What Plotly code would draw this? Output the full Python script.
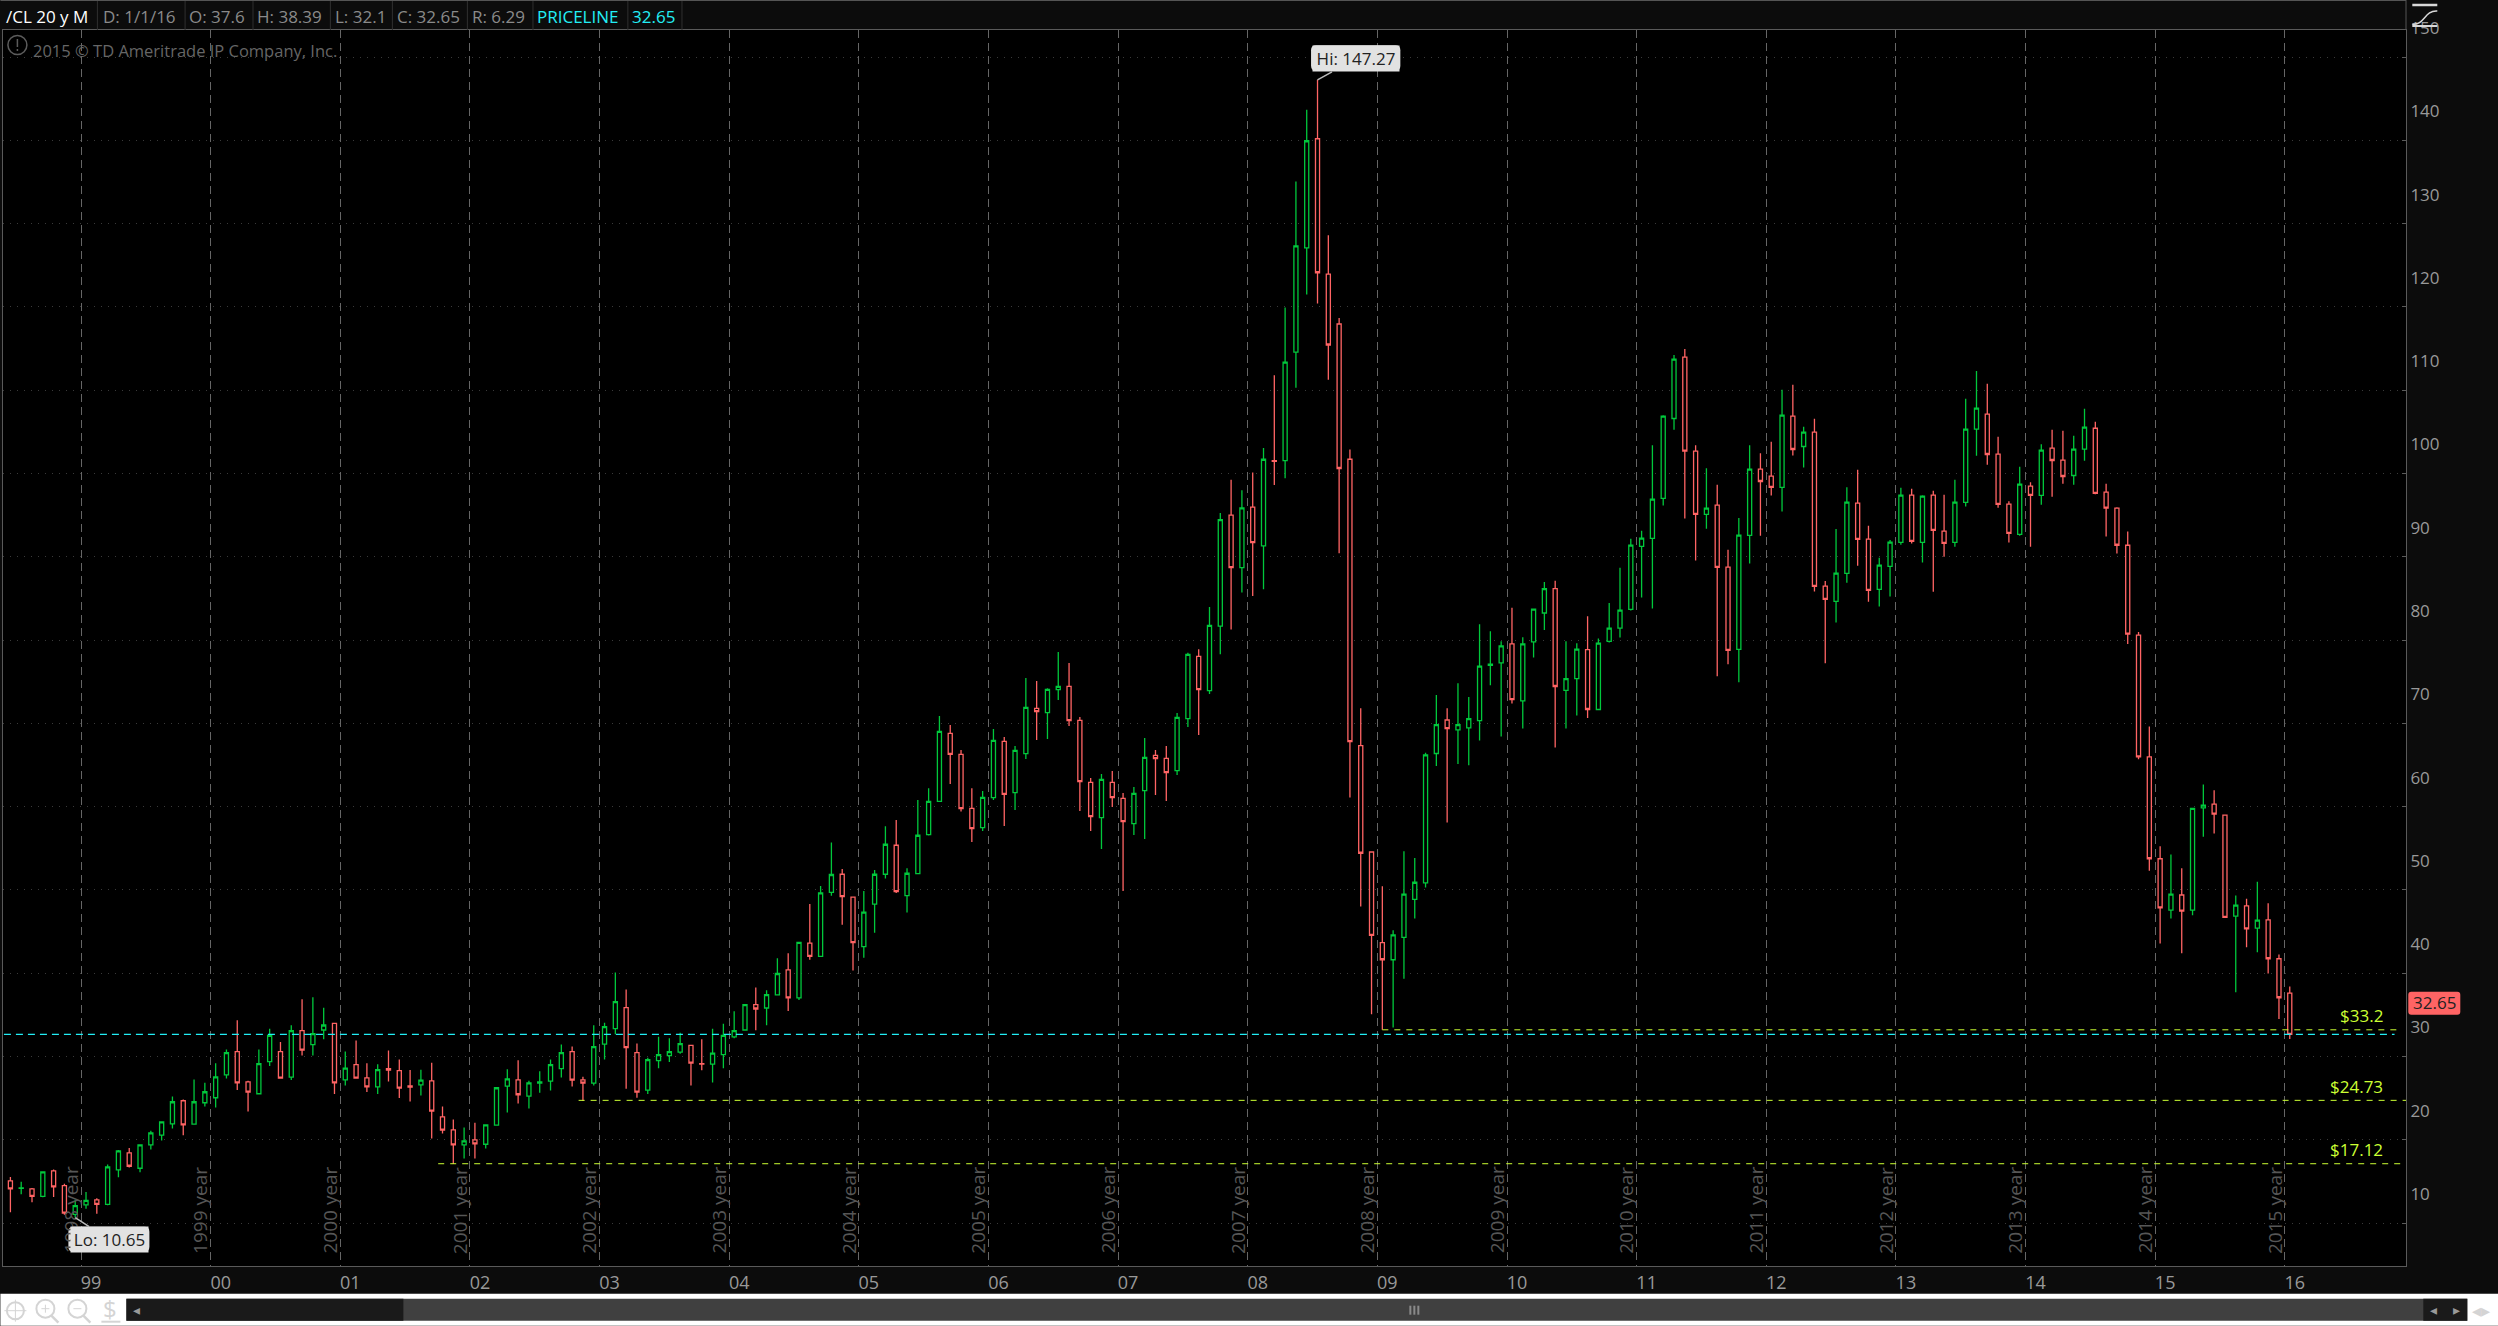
import plotly.graph_objects as go

# monthly bars of /CL, jun 1998 -> jan 2016
opens = [
    15.05, 14.17, 14.09, 13.21, 16.26, 14.49, 11.04, 12.17, 12.77, 12.25, 16.38, 18.42,
    16.58, 19.38, 20.55, 21.91, 24.68, 21.87, 24.44, 25.04, 27.8, 30.57, 26.96, 25.52,
    29.37, 30.57, 27.52, 33.1, 31.41, 33.18, 33.98, 27.2, 29.01, 27.44, 26.36, 28.53,
    28.29, 26.48, 26.6, 27.08, 22.75, 21.19, 19.38, 19.98, 19.46, 21.75, 26.44, 27.2,
    25.24, 26.8, 27.04, 28.53, 30.57, 27.2, 26.8, 31.49, 33.34, 35.86, 30.45, 25.96,
    29.49, 30.09, 30.53, 31.33, 29.13, 29.09, 30.21, 32.34, 33.18, 36.23, 35.82, 37.39,
    40.4, 37.03, 43.61, 42.01, 49.7, 51.88, 49.12, 43.2, 48.28, 51.88, 55.36, 49.32,
    51.96, 56.64, 60.64, 68.8, 66.28, 59.8, 57.48, 61.08, 67.84, 61.68, 66.36, 71.8,
    71.28, 74.04, 74.44, 70.36, 62.92, 58.68, 62.92, 61.0, 57.96, 61.92, 66.16, 65.8,
    64.32, 70.56, 78.04, 73.92, 81.67, 95.0, 88.7, 95.95, 91.3, 101.55, 101.55, 114.56,
    127.1, 140.19, 123.94, 117.95, 101.71, 67.33, 54.55, 43.66, 41.61, 44.3, 48.87, 50.84,
    66.38, 70.4, 69.22, 69.45, 70.32, 76.95, 77.26, 79.55, 72.69, 79.78, 83.25, 86.17,
    73.95, 75.37, 78.84, 71.66, 79.84, 81.44, 83.68, 91.24, 92.2, 97.0, 106.6, 113.96,
    102.68, 95.08, 96.2, 88.76, 78.88, 92.56, 100.52, 99.68, 98.32, 106.88, 103.24, 104.96,
    86.48, 84.64, 88.0, 96.44, 92.12, 86.08, 88.84, 91.72, 97.4, 91.72, 97.4, 93.08,
    91.72, 96.52, 105.32, 107.12, 102.32, 96.32, 92.68, 98.48, 97.36, 103.04, 101.6, 99.76,
    102.92, 105.43, 97.77, 95.84, 91.38, 80.58, 65.98, 53.74, 47.57, 49.39, 47.57, 59.86,
    60.3, 58.98, 46.86, 48.07, 45.42, 46.41, 41.73, 37.6,
]
highs = [
    15.53, 14.97, 14.21, 16.14, 16.42, 14.73, 12.81, 13.73, 12.97, 17.02, 18.78, 19.02,
    19.38, 21.07, 22.23, 25.2, 24.84, 27.24, 26.84, 29.17, 30.85, 34.34, 27.08, 30.85,
    33.34, 31.73, 33.74, 36.87, 37.11, 35.86, 34.06, 30.61, 31.93, 29.17, 29.05, 30.73,
    29.65, 28.37, 28.41, 29.25, 24.0, 22.43, 21.47, 22.03, 21.83, 26.32, 28.45, 29.53,
    27.08, 28.21, 29.65, 31.45, 31.21, 27.56, 33.74, 34.06, 40.08, 38.03, 31.57, 29.85,
    32.38, 32.18, 32.86, 31.37, 32.06, 33.34, 33.94, 35.42, 36.23, 38.27, 37.95, 41.8,
    42.4, 43.74, 48.31, 50.48, 55.7, 52.52, 49.16, 49.88, 52.4, 57.64, 58.4, 52.6,
    60.8, 62.2, 70.88, 69.8, 66.8, 62.2, 61.88, 69.32, 68.36, 67.28, 75.44, 75.08,
    74.2, 78.56, 77.24, 70.76, 63.44, 63.92, 64.28, 61.64, 62.36, 68.24, 66.8, 67.28,
    71.24, 78.48, 78.88, 83.96, 95.24, 99.26, 98.0, 100.13, 103.05, 111.8, 119.92, 135.06,
    143.66, 147.27, 128.6, 118.66, 102.89, 71.82, 54.63, 50.45, 45.16, 54.63, 53.84, 66.46,
    73.4, 71.82, 74.82, 73.16, 81.91, 81.05, 79.86, 83.88, 80.33, 83.8, 86.96, 87.12,
    79.86, 79.63, 82.86, 80.18, 84.44, 88.68, 92.16, 93.12, 103.4, 107.0, 114.24, 114.96,
    103.4, 100.64, 98.64, 90.84, 94.64, 103.4, 102.44, 103.8, 110.04, 110.64, 105.6, 106.56,
    87.08, 93.32, 98.36, 100.44, 93.72, 89.88, 92.0, 98.28, 98.16, 97.4, 97.92, 97.44,
    99.24, 108.96, 112.32, 110.76, 104.4, 96.68, 100.8, 98.96, 103.52, 105.24, 105.12, 104.52,
    107.76, 106.2, 98.76, 95.95, 93.03, 80.96, 69.61, 55.23, 54.24, 52.59, 59.86, 62.67,
    61.95, 59.0, 49.33, 48.95, 50.99, 48.4, 42.23, 38.39,
]
lows = [
    11.28, 13.45, 12.49, 13.09, 13.13, 11.0, 10.65, 11.72, 11.12, 12.13, 15.49, 16.66,
    16.1, 18.82, 19.9, 21.35, 20.55, 21.8, 24.0, 23.87, 27.36, 25.96, 23.39, 25.48,
    28.85, 27.32, 27.16, 30.13, 30.13, 32.06, 25.48, 26.52, 27.32, 25.72, 25.48, 27.0,
    25.0, 24.6, 25.32, 20.15, 20.75, 17.1, 17.74, 17.74, 18.94, 21.71, 23.27, 24.36,
    23.75, 25.64, 25.92, 27.48, 26.4, 24.64, 26.52, 29.65, 32.66, 26.12, 25.04, 25.48,
    28.57, 29.33, 30.33, 26.52, 28.33, 26.88, 28.57, 32.18, 33.14, 33.14, 33.74, 37.39,
    35.46, 36.79, 41.61, 42.0, 49.3, 45.8, 40.32, 41.84, 44.84, 51.36, 49.64, 47.28,
    51.9, 56.52, 60.6, 62.72, 59.4, 55.76, 57.08, 60.8, 57.68, 59.6, 65.72, 68.0,
    68.12, 72.8, 69.68, 59.48, 57.08, 54.92, 59.96, 49.88, 56.6, 56.12, 61.4, 60.68,
    63.8, 69.56, 68.6, 73.52, 78.28, 81.28, 85.7, 85.3, 86.1, 98.63, 99.42, 110.3,
    121.5, 120.4, 111.25, 90.43, 61.1, 48.0, 35.07, 33.2, 33.49, 39.33, 46.58, 50.29,
    64.88, 58.1, 65.12, 64.96, 67.95, 74.58, 68.43, 72.37, 69.37, 77.89, 81.2, 67.09,
    69.37, 70.95, 70.64, 71.58, 79.72, 80.32, 83.56, 85.12, 83.8, 96.16, 105.24, 94.6,
    89.56, 93.36, 75.64, 77.08, 74.92, 89.2, 92.52, 97.36, 95.44, 102.16, 100.72, 85.84,
    77.2, 82.12, 86.88, 88.92, 84.6, 84.04, 85.24, 91.44, 91.6, 89.32, 85.8, 90.0,
    91.2, 96.04, 102.12, 101.04, 95.88, 91.72, 92.52, 91.2, 96.24, 97.2, 98.76, 98.64,
    101.52, 97.5, 92.42, 90.38, 79.53, 65.7, 52.31, 43.55, 46.58, 42.39, 46.97, 56.39,
    56.77, 46.63, 37.71, 43.11, 42.5, 39.97, 34.51, 32.1,
]
closes = [
    14.09, 14.21, 13.21, 16.14, 14.33, 11.2, 12.09, 12.73, 12.25, 16.74, 18.66, 16.82,
    19.38, 20.83, 22.15, 24.56, 21.79, 24.56, 25.76, 27.56, 30.45, 26.84, 25.72, 29.13,
    32.54, 27.4, 33.1, 30.77, 32.74, 33.78, 26.84, 28.61, 27.4, 26.36, 28.41, 28.37,
    26.2, 26.32, 27.16, 23.43, 21.15, 19.38, 19.86, 19.5, 21.79, 26.24, 27.32, 25.4,
    26.84, 26.96, 29.01, 30.45, 27.16, 26.8, 31.17, 33.58, 36.59, 31.05, 25.72, 29.61,
    30.21, 30.57, 31.53, 29.21, 29.09, 30.41, 32.54, 33.1, 36.23, 35.7, 37.43, 39.96,
    37.03, 43.7, 42.01, 49.64, 51.85, 49.2, 43.68, 47.32, 51.88, 55.48, 49.8, 52.0,
    56.56, 60.64, 69.04, 66.28, 59.76, 57.36, 61.12, 67.96, 61.48, 66.76, 71.92, 71.4,
    74.08, 74.44, 70.32, 63.0, 58.8, 63.28, 61.08, 58.2, 61.6, 65.92, 65.76, 64.08,
    70.72, 78.28, 74.04, 81.76, 94.45, 88.7, 95.87, 91.69, 101.71, 101.47, 113.38, 127.34,
    139.95, 124.1, 115.43, 100.6, 67.8, 54.4, 44.53, 41.61, 44.61, 49.5, 50.92, 66.22,
    69.85, 69.37, 69.85, 70.56, 76.87, 77.1, 79.31, 72.84, 79.55, 83.72, 86.17, 74.42,
    75.37, 78.92, 71.66, 79.63, 81.44, 83.6, 91.4, 92.24, 96.92, 106.88, 113.72, 102.68,
    95.08, 95.84, 88.72, 78.76, 92.6, 100.52, 99.04, 98.32, 107.0, 102.88, 104.96, 86.44,
    84.88, 88.04, 96.56, 92.08, 85.96, 89.0, 91.76, 97.4, 91.84, 97.28, 93.16, 91.6,
    96.56, 105.32, 107.84, 102.28, 96.28, 92.8, 98.72, 97.36, 102.8, 101.56, 99.64, 102.92,
    105.56, 97.6, 95.84, 91.38, 80.7, 65.98, 53.74, 47.85, 49.5, 47.46, 59.8, 60.19,
    59.09, 46.69, 48.18, 45.31, 46.36, 41.73, 37.05, 32.65,
]
bar_index = list(range(len(closes)))
first_year = 1998
first_month = 6

years = list(range(1999, 2017))
year_ticks = ["99", "00", "01", "02", "03", "04", "05", "06", "07", "08",
              "09", "10", "11", "12", "13", "14", "15", "16"]
price_ticks = list(range(10, 160, 10))

levels = [33.2, 24.73, 17.12]
level_labels = ["$33.2", "$24.73", "$17.12"]
level_starts = [127, 52.6, 39.6]
level_ends = [221.2, 221.76, 221.76]
priceline = 32.65

header_cells = ["/CL 20 y M", "D: 1/1/16", "O: 37.6", "H: 38.39", "L: 32.1",
                "C: 32.65", "R: 6.29", "PRICELINE", "32.65"]

# page geometry, pixels of the 2498x1326 screenshot
W, H = 2498, 1326
L, R, T, B = 2.6, 2405.7, 30.0, 1266.3
FONT = "Open Sans"
GREEN = "#00c83c"
RED = "#ff6464"
YELLOW = "#ccff33"
CALLOUT = "#e2e2e2"


def px(x):
    return (x - L) / (R - L)


def py(y):
    return (B - y) / (B - T)


def rect(x0, y0, x1, y1, fill, line="rgba(0,0,0,0)"):
    return dict(type="rect", xref="paper", yref="paper", x0=px(x0), x1=px(x1),
                y0=py(y0), y1=py(y1), fillcolor=fill, line=dict(color=line, width=1))


def rrect(x0, y0, x1, y1, r, fill):
    # rounded box of the hi/lo callouts and the price badge
    pts = [("M", x0 + r, y0), ("L", x1 - r, y0), ("Q", x1, y0, x1, y0 + r), ("L", x1, y1 - r),
           ("Q", x1, y1, x1 - r, y1), ("L", x0 + r, y1), ("Q", x0, y1, x0, y1 - r),
           ("L", x0, y0 + r), ("Q", x0, y0, x0 + r, y0)]
    path = ""
    for p in pts:
        coords = []
        for i in range(1, len(p), 2):
            coords.append("%f,%f" % (px(p[i]), py(p[i + 1])))
        path += p[0] + " " + " ".join(coords) + " "
    return dict(type="path", xref="paper", yref="paper", path=path + "Z", fillcolor=fill,
                line=dict(color=fill, width=0))


def seg(x0, y0, x1, y1, color, width=1):
    return dict(type="line", xref="paper", yref="paper", x0=px(x0), x1=px(x1),
                y0=py(y0), y1=py(y1), line=dict(color=color, width=width))


def ring(cx, cy, r, color, width=1.5):
    return dict(type="circle", xref="paper", yref="paper", x0=px(cx - r), x1=px(cx + r),
                y0=py(cy + r), y1=py(cy - r), line=dict(color=color, width=width))


def label(x, y, text, color, size=17, anchor="left", **kw):
    return dict(xref="paper", yref="paper", x=px(x), y=py(y), text=text, showarrow=False,
                xanchor=anchor, yanchor="middle", font=dict(family=FONT, size=size, color=color), **kw)


tick_pos = [(y - first_year) * 12 + 1 - first_month - 0.46 for y in years]

fig = go.Figure()

for lvl, start, end in zip(levels, level_starts, level_ends):
    fig.add_trace(go.Scatter(x=[start, end], y=[lvl, lvl], mode="lines", hoverinfo="skip",
                             line=dict(color=YELLOW, width=1, dash="6px,6px")))
fig.add_trace(go.Scatter(x=[-0.6, 220.7], y=[priceline, priceline], mode="lines", hoverinfo="skip",
                         line=dict(color="#22eef5", width=1.2, dash="7px,5px")))

fig.add_trace(go.Candlestick(
    x=bar_index, open=opens, high=highs, low=lows, close=closes,
    whiskerwidth=0,
    increasing=dict(line=dict(color=GREEN, width=1.3), fillcolor="#000000"),
    decreasing=dict(line=dict(color=RED, width=1.3), fillcolor="#000000"),
))

shapes = []
# bottom toolbar
shapes.append(rect(0, 1294, W, H, "#ffffff"))
shapes.append(rect(126, 1299, 2467, 1321, "#404040"))
shapes.append(rect(126, 1299, 403, 1321, "#1a1a1a"))
shapes.append(rect(2423, 1299, 2467, 1321, "#1a1a1a"))
for gx in (1410, 1414, 1418):
    shapes.append(seg(gx, 1306, gx, 1315, "#8a8a8a", 2))
shapes.append(ring(15, 1311, 8.5, "#d4d4d4", 2))
shapes.append(seg(15, 1300, 15, 1322, "#d4d4d4"))
shapes.append(seg(4, 1311, 26, 1311, "#d4d4d4"))
for cx in (45, 77):
    shapes.append(ring(cx, 1309, 9, "#d4d4d4", 2))
    shapes.append(seg(cx + 6, 1316, cx + 13, 1323, "#d4d4d4", 2.5))
    shapes.append(seg(cx - 4, 1309, cx + 4, 1309, "#d4d4d4"))
shapes.append(seg(45, 1305, 45, 1313, "#d4d4d4"))
shapes.append(seg(101, 1322, 120, 1322, "#d4d4d4", 2))
# header cells
for cx in (97, 184.7, 252.6, 330, 392, 467, 532.6, 627.5, 681.6):
    shapes.append(seg(cx, 1, cx, 30, "#303030"))
shapes.append(seg(0, 0.5, 2405.7, 0.5, "#555555"))
shapes.append(seg(2405.7, 0, 2405.7, 30, "#555555"))
# copyright mark, top right study icon
shapes.append(ring(17, 45, 9.5, "#5c5c5c"))
shapes.append(seg(17, 39, 17, 47, "#5c5c5c", 1.5))
shapes.append(seg(17, 49, 17, 51, "#5c5c5c", 1.5))
shapes.append(seg(2412, 5, 2437, 5, "#d8d8d8", 2.5))
shapes.append(seg(2412, 26, 2437, 26, "#d8d8d8", 2))
shapes.append(dict(type="path", xref="paper", yref="paper",
                   path="M %f,%f C %f,%f %f,%f %f,%f" % (px(2412), py(24), px(2424), py(26),
                                                         px(2424), py(10), px(2437), py(11)),
                   line=dict(color="#d8d8d8", width=1.5)))
# callout and badge boxes
shapes.append(rrect(1310.7, 45.3, 1400, 70.7, 5, CALLOUT))
shapes.append(rrect(68, 1227, 149, 1252, 5, CALLOUT))
shapes.append(rrect(2408, 992, 2460, 1015, 3, RED))

annotations = []
left_xs = [4, 101, 187, 255, 333, 395, 470, 535, 630]
colors = ["#ffffff"] + ["#8a8a8a"] * 6 + ["#22eef5", "#22eef5"]
for text, x, c in zip(header_cells, left_xs, colors):
    annotations.append(label(x, 16, text, c))
annotations.append(label(31, 51, "2015 © TD Ameritrade IP Company, Inc.", "#666666", size=16.5))

# rotated period captions sit just left of each year line, named after the year that ends there
for y, pos in zip(years, tick_pos):
    annotations.append(dict(xref="x", yref="paper", x=pos, y=py(1256), xshift=-10, text="%d year" % (y - 1),
                            showarrow=False, textangle=-90, xanchor="center", yanchor="bottom",
                            font=dict(family=FONT, size=19, color="#565656")))

for lvl, text in zip(levels, level_labels):
    annotations.append(dict(xref="paper", yref="y", x=px(2385), y=lvl, yshift=14, text=text, showarrow=False,
                            xanchor="right", yanchor="middle", font=dict(family=FONT, size=17, color=YELLOW)))

annotations.append(dict(xref="paper", yref="y", x=px(2434), y=priceline, yshift=31.4, text="32.65", showarrow=False,
                        xanchor="center", yanchor="middle",
                        font=dict(family=FONT, size=17, color="#222222")))

hi_bar = highs.index(max(highs))
lo_bar = lows.index(min(lows))
annotations.append(dict(x=hi_bar, y=highs[hi_bar], ax=38, ay=-21, text="Hi: %.2f" % highs[hi_bar],
                        showarrow=True, arrowhead=0, arrowwidth=1.5, arrowcolor="#bbbbbb", standoff=0,
                        width=84, height=23, bgcolor=CALLOUT,
                        font=dict(family=FONT, size=17, color="#222222")))
annotations.append(dict(x=lo_bar, y=lows[lo_bar], ax=34, ay=22, text="Lo: %.2f" % lows[lo_bar],
                        showarrow=True, arrowhead=0, arrowwidth=1.5, arrowcolor="#bbbbbb", standoff=0,
                        width=75, height=23, bgcolor=CALLOUT,
                        font=dict(family=FONT, size=17, color="#222222")))

# triangles of the scroll bar
for x, text in ((136, "◂"), (2433, "◂"), (2456, "▸")):
    annotations.append(label(x, 1310, text, "#999999", size=14, anchor="center"))
annotations.append(label(110, 1309, "$", "#d4d4d4", size=24, anchor="center"))
annotations.append(label(2481, 1310, "◂▸", "#d4d4d4", size=18, anchor="center"))

fig.update_layout(
    width=W, height=H,
    margin=dict(l=L, r=W - R, t=T, b=H - B, pad=0),
    paper_bgcolor="#0c0c0c",
    plot_bgcolor="#000000",
    showlegend=False,
    boxgap=0.46,
    shapes=shapes,
    annotations=annotations,
    font=dict(family=FONT),
)
fig.update_xaxes(
    range=[-0.685, 221.76], rangeslider_visible=False,
    tickmode="array", tickvals=tick_pos, ticktext=year_ticks, ticklabelshift=10,
    showgrid=True, gridcolor="#666666", gridwidth=1, griddash="8px,5px",
    showline=True, linecolor="#5a5a5a", mirror=True, zeroline=False, ticks="",
    tickfont=dict(family=FONT, size=18, color="#999999"),
)
fig.update_yaxes(
    range=[4.84, 153.25], side="right",
    tickmode="array", tickvals=price_ticks, ticktext=[str(v) for v in price_ticks], ticklabelshift=-29,
    showgrid=True, gridcolor="#3a3a3a", gridwidth=1, griddash="1px,6px",
    showline=True, linecolor="#5a5a5a", mirror=True, zeroline=False,
    ticks="inside", ticklen=4, tickcolor="#5a5a5a",
    tickfont=dict(family=FONT, size=17, color="#999999"),
)

fig.write_html("out.html", config=dict(displayModeBar=False),
               post_script="document.body.style.margin='0';document.body.style.overflow='hidden';")
